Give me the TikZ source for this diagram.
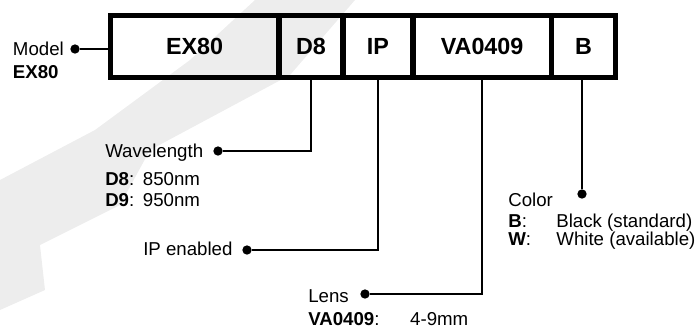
\documentclass[tikz,border=0pt]{standalone}
\usepackage{fontspec}
\setmainfont{Liberation Sans}
\usetikzlibrary{positioning}

\tikzset{
  part/.style={draw, line width=4pt, outer sep=0pt, inner sep=0pt, minimum height=46.4pt,
    font=\fontsize{17.5}{17.5}\selectfont\bfseries},
  lbl/.style={anchor=base west, inner sep=0pt, font=\fontsize{14}{13.5}\selectfont},
  pin/.style={circle, fill, inner sep=0pt, minimum size=7pt},
  lead/.style={line width=1pt}
}

\begin{document}
\begin{tikzpicture}[x=0.75pt,y=-0.75pt]
\useasboundingbox (0,0) rectangle (696,330);
% faint band behind everything
\fill[black!7] (255,0) -- (355,0) -- (290,75) -- (150,150) -- (120,205) -- (40,245)
  -- (45,290) -- (0,310) -- (0,180) -- (95,130) -- (190,60) -- cycle;

% part number
\node[part, minimum width=126.5pt] (ex80) at (194.65,46.25) {EX80};
\node[part, minimum width=48pt, right=0pt of ex80] (d8) {D8};
\node[part, minimum width=52.5pt, right=0pt of d8] (ip) {IP};
\node[part, minimum width=103.7pt, right=0pt of ip] (va) {VA0409};
\node[part, minimum width=48.3pt, right=0pt of va] (b) {B};

% model
\node[lbl] (model) at (12.7,55) {Model};
\node[lbl] (modelval) at (12.7,78) {\textbf{EX80}};
\node[pin] (mpin) at (75,49) {};
\draw[lead] (mpin) -- (mpin -| ex80.west);

% wavelength
\node[lbl] (wave) at (105,157) {Wavelength};
\node[lbl] (wavevals) at (105,185) {\begin{tabular}[t]{@{}l@{\hspace{6.5pt}}l@{}}
  \textbf{D8}: & 850nm\\[2pt]
  \textbf{D9}: & 950nm
\end{tabular}};
\node[pin] (wpin) at (218,151) {};
\draw[lead] (wpin) -| (d8.south);

% ip
\node[lbl] (ipen) at (143,255) {IP enabled};
\node[pin] (ipin) at (247,250) {};
\draw[lead] (ipin) -| (ip.south);

% lens
\node[lbl] (lens) at (308,302) {Lens};
\node[lbl] (lensval) at (308,325.5) {\textbf{VA0409}:\hspace{23pt}4-9mm};
\node[pin] (lpin) at (365,294) {};
\draw[lead] (lpin) -| (va.south);

% color
\node[lbl] (color) at (508,206) {Color};
\node[lbl] (colorvals) at (508,227) {\begin{tabular}[t]{@{}l@{\hspace{19pt}}l@{}}
  \textbf{B}: & Black (standard)\\
  \textbf{W}: & White (available)
\end{tabular}};
\node[pin] (cpin) at (582,194) {};
\draw[lead] (cpin) -- (cpin |- b.south);
\end{tikzpicture}
\end{document}
